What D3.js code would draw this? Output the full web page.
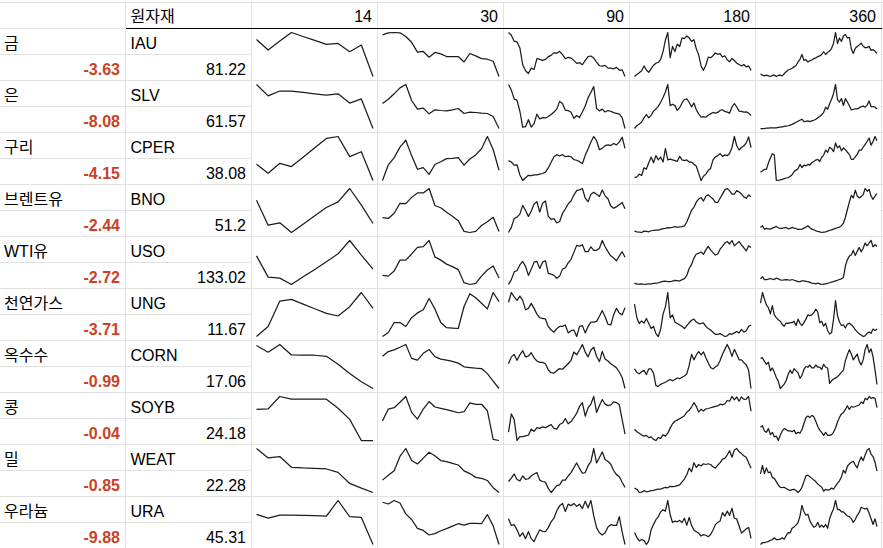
<!DOCTYPE html>
<html>
<head>
<meta charset="utf-8">
<script src="https://cdn.jsdelivr.net/npm/d3@7"></script>
<style>
  body { margin: 0; background: #fff; }
  svg { display: block; }
  .txt { font-family: "Liberation Sans", Arial, "Noto Sans CJK KR", sans-serif; font-size: 16px; fill: #000; }
  .change { font-weight: bold; fill: #cc4125; }
  .grid { stroke: #e1e1e1; stroke-width: 1; shape-rendering: crispEdges; }
  .rule { stroke: #000; stroke-width: 1; shape-rendering: crispEdges; }
  .spark { fill: none; stroke: #1c1c1c; stroke-width: 1.25; stroke-linejoin: round; }
</style>
</head>
<body>
<div id="wrapper"></div>
<script>
// table contents
const headerLabel = "원자재";
const periods = ["14", "30", "90", "180", "360"];
const names = ["금", "은", "구리", "브렌트유", "WTI유", "천연가스", "옥수수", "콩", "밀", "우라늄"];
const tickers = ["IAU", "SLV", "CPER", "BNO", "USO", "UNG", "CORN", "SOYB", "WEAT", "URA"];
const changes = [-3.63, -8.08, -4.15, -2.44, -2.72, -3.71, -0.99, -0.04, -0.85, -9.88];
const prices = [81.22, 61.57, 38.08, 51.2, 133.02, 11.67, 17.06, 24.18, 22.28, 45.31];

// sparkline values (relative levels), one list per row
const spark14 = [
  [112, 80, 107, 133, 121, 109, 97, 100, 75, 95, 0],
  [131, 98, 112, 112, 108, 104, 100, 104, 77, 89, 3],
  [49, 22, 52, 42, 70, 99, 127, 133, 72, 87, 0],
  [98, 23, 30, 1, 26, 51, 76, 93, 133, 83, 28],
  [87, 23, 20, 1, 24, 46, 69, 93, 133, 89, 47],
  [0, 30, 107, 112, 98, 84, 70, 62, 90, 133, 85],
  [129, 109, 132, 101, 100, 100, 97, 73, 46, 21, 1],
  [94, 95, 132, 124, 124, 124, 124, 97, 64, 1, 1],
  [131, 103, 107, 75, 73, 72, 70, 60, 27, 13, 0],
  [91, 80, 89, 89, 88, 87, 86, 132, 84, 82, 2],
];
const spark30 = [
  [125, 131, 132, 131, 120, 103, 74, 76, 59, 73, 69, 61, 61, 61, 45, 70, 63, 55, 53, 47, 2],
  [76, 89, 105, 123, 133, 85, 59, 62, 45, 57, 55, 54, 57, 61, 46, 50, 49, 47, 46, 37, 1],
  [2, 48, 69, 100, 120, 75, 35, 40, 20, 49, 57, 66, 67, 69, 47, 65, 77, 95, 131, 93, 32],
  [48, 46, 60, 87, 86, 103, 115, 115, 127, 81, 75, 63, 52, 40, 11, 8, 11, 27, 37, 49, 11],
  [31, 29, 43, 73, 73, 90, 108, 110, 127, 82, 73, 62, 55, 47, 11, 6, 9, 29, 46, 57, 24],
  [10, 20, 45, 45, 35, 57, 69, 77, 105, 79, 45, 32, 31, 30, 85, 117, 107, 93, 79, 120, 97],
  [96, 110, 115, 123, 131, 90, 85, 105, 116, 95, 88, 85, 81, 76, 65, 63, 61, 60, 45, 23, 1],
  [60, 95, 99, 115, 132, 85, 65, 95, 117, 101, 97, 93, 89, 84, 87, 113, 109, 109, 90, 5, 2],
  [36, 50, 63, 105, 128, 93, 83, 100, 117, 107, 93, 90, 85, 80, 63, 55, 44, 41, 35, 14, 0],
  [122, 117, 127, 120, 89, 73, 48, 42, 29, 33, 41, 47, 54, 61, 57, 62, 62, 61, 87, 55, 2],
];
const spark90 = [
  [133, 125, 107, 105, 87, 37, 19, 11, 27, 23, 55, 53, 50, 53, 61, 65, 73, 71, 77, 67, 55, 59, 57, 50, 41, 43, 37, 50, 61, 63, 57, 45, 34, 33, 35, 27, 27, 25, 29, 21, 22, 2],
  [131, 115, 90, 86, 55, 10, 11, 31, 10, 20, 47, 33, 37, 36, 40, 46, 53, 61, 83, 77, 58, 57, 52, 35, 43, 37, 53, 70, 93, 109, 125, 63, 56, 61, 53, 57, 55, 51, 49, 47, 37, 6],
  [62, 58, 49, 50, 21, 5, 13, 20, 19, 21, 21, 23, 25, 29, 41, 57, 73, 79, 75, 79, 73, 75, 73, 65, 63, 59, 53, 77, 95, 115, 131, 119, 93, 97, 105, 107, 105, 111, 107, 115, 129, 97],
  [3, 17, 41, 45, 53, 77, 63, 47, 61, 81, 87, 59, 83, 89, 47, 39, 41, 29, 33, 55, 67, 81, 89, 105, 117, 119, 123, 97, 87, 107, 113, 107, 101, 119, 103, 95, 75, 69, 73, 79, 85, 68],
  [1, 15, 37, 41, 57, 67, 53, 27, 45, 65, 67, 47, 65, 69, 33, 31, 27, 19, 25, 45, 49, 63, 73, 93, 113, 111, 115, 95, 95, 109, 99, 99, 105, 127, 109, 95, 83, 77, 69, 83, 95, 79],
  [100, 127, 115, 105, 117, 105, 79, 83, 97, 83, 67, 57, 55, 53, 33, 23, 17, 27, 33, 33, 37, 15, 21, 23, 5, 33, 35, 15, 33, 45, 45, 47, 61, 77, 60, 39, 37, 65, 83, 70, 65, 85],
  [73, 93, 100, 83, 99, 111, 93, 95, 105, 90, 81, 77, 77, 73, 55, 47, 46, 53, 59, 57, 65, 73, 83, 107, 99, 113, 129, 107, 93, 113, 121, 95, 79, 109, 87, 81, 73, 67, 61, 49, 33, 1],
  [37, 85, 70, 15, 25, 25, 27, 29, 45, 39, 49, 47, 51, 49, 53, 57, 47, 45, 57, 61, 73, 59, 65, 75, 87, 105, 115, 79, 101, 111, 131, 89, 107, 123, 111, 107, 109, 117, 115, 109, 70, 32],
  [35, 45, 57, 41, 37, 51, 41, 43, 51, 57, 61, 39, 35, 33, 15, 3, 13, 23, 25, 39, 39, 51, 61, 75, 89, 73, 59, 61, 81, 93, 131, 89, 105, 121, 99, 93, 85, 67, 55, 49, 33, 18],
  [69, 51, 53, 39, 21, 31, 15, 34, 15, 7, 24, 39, 35, 34, 45, 61, 71, 91, 105, 111, 89, 109, 105, 111, 103, 109, 97, 117, 99, 119, 77, 45, 31, 25, 31, 47, 53, 51, 51, 75, 33, -1],
];
const spark180 = [
  [2, 8, 13, 19, 33, 21, 14, 25, 35, 41, 43, 52, 75, 109, 131, 57, 90, 75, 97, 90, 115, 113, 121, 115, 105, 110, 83, 65, 33, 20, 35, 59, 57, 63, 71, 67, 69, 59, 63, 51, 45, 55, 49, 41, 37, 33, 37, 30, 33, 20],
  [2, 10, 15, 21, 33, 43, 33, 41, 53, 59, 67, 79, 93, 109, 131, 69, 73, 69, 55, 63, 77, 87, 89, 79, 65, 77, 57, 45, 35, 37, 35, 41, 45, 49, 47, 49, 55, 57, 52, 50, 47, 65, 75, 65, 53, 52, 50, 51, 47, 40],
  [15, 17, 25, 21, 43, 39, 57, 73, 57, 77, 65, 73, 59, 97, 65, 67, 65, 63, 61, 75, 65, 63, 65, 59, 59, 53, 47, 27, 7, 19, 25, 35, 41, 65, 73, 77, 83, 75, 79, 77, 83, 100, 131, 105, 93, 100, 105, 113, 130, 100],
  [7, 5, 4, 3, 7, 6, 5, 8, 9, 10, 10, 12, 14, 15, 17, 16, 18, 20, 18, 19, 20, 22, 33, 50, 67, 75, 90, 99, 103, 93, 107, 111, 105, 99, 89, 89, 101, 113, 125, 129, 123, 113, 113, 123, 119, 113, 105, 101, 111, 105],
  [7, 4, 4, 5, 3, 4, 5, 5, 6, 7, 8, 10, 12, 13, 11, 11, 13, 15, 14, 13, 17, 20, 29, 49, 61, 79, 91, 93, 97, 90, 103, 113, 103, 95, 88, 91, 105, 113, 123, 127, 120, 130, 115, 121, 127, 117, 109, 100, 115, 110],
  [95, 57, 41, 48, 42, 55, 41, 27, 33, 13, 5, 25, 67, 87, 127, 57, 65, 45, 41, 37, 33, 27, 35, 43, 50, 53, 45, 41, 41, 43, 33, 27, 23, 17, 11, 11, 13, 9, 5, 7, 13, 11, 15, 19, 15, 25, 17, 21, 33, 37],
  [61, 51, 47, 53, 57, 45, 61, 61, 49, 13, 11, 17, 20, 23, 27, 31, 27, 31, 35, 33, 37, 41, 47, 71, 103, 87, 101, 111, 101, 110, 93, 79, 65, 61, 67, 71, 85, 103, 117, 131, 117, 97, 117, 103, 87, 87, 79, 73, 57, 5],
  [40, 33, 29, 24, 21, 23, 17, 19, 12, 9, 17, 15, 25, 21, 29, 43, 55, 62, 65, 69, 73, 77, 87, 92, 101, 113, 103, 87, 95, 90, 96, 97, 99, 101, 103, 104, 109, 107, 110, 119, 117, 130, 121, 129, 117, 129, 122, 123, 130, 90],
  [20, 17, 8, 9, 13, 10, 11, 13, 14, 16, 17, 17, 20, 22, 21, 25, 24, 25, 27, 29, 37, 45, 57, 75, 65, 90, 77, 85, 81, 87, 85, 87, 85, 79, 75, 83, 90, 100, 102, 111, 123, 105, 125, 129, 120, 115, 109, 105, 90, 75],
  [41, 27, 17, 21, 18, 7, 17, 49, 63, 77, 85, 99, 105, 101, 131, 91, 69, 73, 71, 75, 69, 81, 61, 83, 61, 47, 43, 39, 31, 35, 33, 29, 35, 47, 63, 69, 73, 97, 87, 101, 89, 109, 81, 79, 59, 39, 45, 51, 55, 24],
];
const spark360 = [
  [10, 7, 5, 7, 5, 3, 6, 7, 3, 6, 7, 5, 11, 17, 22, 24, 27, 31, 35, 45, 53, 67, 50, 52, 45, 49, 51, 55, 57, 61, 63, 67, 75, 67, 73, 77, 85, 100, 131, 99, 115, 105, 121, 125, 115, 117, 83, 70, 85, 90, 95, 100, 91, 87, 87, 91, 79, 81, 77, 70],
  [3, 3, 3, 4, 4, 5, 5, 5, 5, 6, 7, 8, 9, 10, 11, 13, 15, 18, 21, 24, 27, 30, 23, 24, 25, 23, 25, 27, 30, 34, 38, 43, 50, 65, 59, 75, 88, 105, 131, 87, 80, 90, 70, 90, 80, 69, 57, 59, 60, 60, 63, 67, 68, 65, 71, 83, 67, 67, 65, 60],
  [27, 31, 35, 35, 53, 67, 79, 75, 5, 4, 6, 7, 9, 11, 12, 15, 20, 29, 33, 37, 49, 40, 47, 45, 49, 47, 54, 57, 61, 63, 57, 69, 75, 89, 83, 97, 93, 85, 109, 95, 101, 87, 95, 90, 83, 77, 63, 63, 70, 77, 89, 89, 97, 105, 113, 123, 103, 113, 127, 115],
  [20, 25, 15, 17, 16, 15, 18, 20, 23, 19, 17, 17, 19, 20, 16, 17, 20, 18, 17, 14, 14, 15, 18, 21, 25, 19, 15, 13, 10, 8, 7, 5, 6, 7, 9, 11, 13, 15, 17, 19, 21, 25, 33, 50, 73, 95, 115, 107, 130, 113, 107, 111, 117, 135, 127, 132, 113, 103, 113, 120],
  [19, 25, 17, 17, 18, 20, 18, 17, 21, 19, 16, 15, 16, 17, 16, 15, 17, 15, 13, 11, 11, 13, 13, 12, 11, 9, 7, 6, 5, 7, 5, 3, 4, 5, 6, 8, 10, 11, 13, 15, 17, 19, 23, 55, 73, 83, 87, 99, 85, 97, 107, 95, 105, 120, 112, 120, 127, 109, 115, 110],
  [100, 130, 111, 95, 87, 70, 93, 67, 59, 53, 49, 40, 35, 44, 43, 45, 45, 49, 37, 55, 43, 37, 45, 55, 67, 65, 67, 73, 83, 75, 45, 49, 35, 43, 23, 13, 17, 55, 107, 65, 47, 37, 39, 30, 41, 43, 39, 33, 25, 19, 14, 10, 6, 8, 15, 19, 15, 27, 23, 27],
  [91, 93, 83, 75, 81, 57, 65, 53, 39, 29, 9, 15, 21, 31, 47, 59, 50, 63, 57, 52, 37, 45, 61, 69, 67, 73, 65, 65, 73, 67, 67, 61, 75, 67, 65, 23, 30, 35, 38, 41, 47, 53, 59, 85, 101, 115, 103, 87, 95, 103, 83, 73, 87, 115, 129, 107, 117, 95, 60, 20],
  [47, 51, 37, 33, 43, 27, 33, 21, 23, 11, 25, 37, 43, 41, 37, 37, 35, 39, 29, 33, 31, 40, 57, 73, 77, 73, 79, 75, 63, 49, 39, 33, 25, 33, 25, 25, 27, 33, 45, 61, 73, 83, 87, 95, 105, 95, 103, 101, 103, 105, 107, 115, 111, 125, 121, 130, 125, 127, 125, 100],
  [68, 89, 69, 83, 71, 73, 59, 57, 49, 41, 35, 34, 35, 32, 29, 27, 29, 30, 27, 22, 27, 35, 49, 63, 65, 61, 57, 53, 49, 43, 39, 35, 25, 30, 28, 29, 33, 30, 38, 45, 51, 61, 77, 70, 87, 93, 97, 99, 90, 83, 99, 110, 101, 115, 127, 131, 117, 111, 97, 75],
  [4, 9, 9, 11, 13, 16, 18, 23, 18, 18, 19, 23, 19, 29, 38, 37, 50, 54, 59, 66, 85, 115, 97, 87, 90, 71, 61, 53, 56, 67, 53, 59, 53, 61, 50, 77, 93, 105, 129, 103, 103, 97, 97, 90, 85, 83, 77, 67, 75, 87, 95, 110, 107, 105, 107, 93, 77, 61, 77, 55],
];

function drawTable() {
  const sparkByPeriod = { "14": spark14, "30": spark30, "90": spark90, "180": spark180, "360": spark360 };

  // define dimensions
  let dimensions = {
    width: 883,
    height: 548,
    headerTop: 2.5,
    headerBottom: 28.5,
    rowHeight: 52,
    textPad: 5,
    spark: { left: 5, right: 4.5, top: 4, bottom: 4 },
  };

  const columns = ["name", "ticker", ...periods];
  const xCol = d3.scaleBand().domain(columns).range([-1.5, 880.5]);
  const colW = xCol.bandwidth();
  const yRow = d3
    .scaleBand()
    .domain(d3.range(names.length))
    .range([
      dimensions.headerBottom,
      dimensions.headerBottom + names.length * dimensions.rowHeight,
    ]);
  const half = dimensions.rowHeight / 2;

  const svg = d3
    .select("#wrapper")
    .append("svg")
    .attr("width", dimensions.width)
    .attr("height", dimensions.height);

  // grid lines
  const grid = svg.append("g");
  const gridLine = (x1, x2, y1, y2, cls = "grid") =>
    grid.append("line").attr("class", cls)
      .attr("x1", x1).attr("x2", x2).attr("y1", y1).attr("y2", y2);

  gridLine(0, dimensions.width, dimensions.headerTop, dimensions.headerTop);
  columns.forEach((c) => {
    const x = Math.round(xCol(c) + colW) + 0.5;
    gridLine(x, x, dimensions.headerTop, dimensions.height);
  });
  const rightEdge = Math.round(xCol("360") + colW) + 0.5;
  const leftSparks = Math.round(xCol("ticker") + colW) + 0.5;
  names.forEach((d, i) => {
    const top = yRow(i);
    // inner line only in text columns (spark cells are merged)
    gridLine(0, leftSparks, top + half, top + half);
    gridLine(rightEdge, dimensions.width, top + half, top + half);
    gridLine(0, dimensions.width, top + dimensions.rowHeight, top + dimensions.rowHeight);
  });
  const ruleStart = Math.round(xCol("ticker")) + 0.5;
  gridLine(0, ruleStart, dimensions.headerBottom, dimensions.headerBottom);
  gridLine(rightEdge, dimensions.width, dimensions.headerBottom, dimensions.headerBottom);
  gridLine(ruleStart, rightEdge, dimensions.headerBottom, dimensions.headerBottom, "rule");

  // header texts
  const header = svg.append("g");
  header.append("text")
    .attr("class", "txt")
    .attr("x", xCol("ticker") + dimensions.textPad + 1)
    .attr("y", 22)
    .text(headerLabel);
  header.selectAll(".period")
    .data(periods)
    .enter()
    .append("text")
    .attr("class", "txt period")
    .attr("text-anchor", "end")
    .attr("x", (d) => xCol(d) + colW - dimensions.textPad + 0.5)
    .attr("y", 22)
    .text((d) => d);

  // row texts
  const rows = svg
    .selectAll(".row")
    .data(names)
    .enter()
    .append("g")
    .attr("class", "row")
    .attr("transform", (d, i) => `translate(0, ${yRow(i)})`);

  rows.append("text")
    .attr("class", "txt")
    .attr("x", 4)
    .attr("y", 20)
    .text((d) => d);
  rows.append("text")
    .attr("class", "txt change")
    .attr("text-anchor", "end")
    .attr("x", xCol("name") + colW - dimensions.textPad + 0.5)
    .attr("y", half + 20)
    .text((d, i) => changes[i]);
  rows.append("text")
    .attr("class", "txt")
    .attr("x", xCol("ticker") + dimensions.textPad + 1)
    .attr("y", 20)
    .text((d, i) => tickers[i]);
  rows.append("text")
    .attr("class", "txt")
    .attr("text-anchor", "end")
    .attr("x", xCol("ticker") + colW - dimensions.textPad + 0.5)
    .attr("y", half + 20)
    .text((d, i) => prices[i]);

  // sparklines
  const pad = dimensions.spark;
  periods.forEach((p) => {
    const x0 = Math.round(xCol(p)) + 0.5;
    sparkByPeriod[p].forEach((values, i) => {
      const top = yRow(i);
      const xScale = d3.scaleLinear()
        .domain([0, values.length - 1])
        .range([x0 + pad.left, x0 + colW - pad.right]);
      const yScale = d3.scaleLinear()
        .domain(d3.extent(values))
        .range([top + dimensions.rowHeight - pad.bottom, top + pad.top]);
      const line = d3.line()
        .x((d, j) => xScale(j))
        .y((d) => yScale(d));
      svg.append("path")
        .datum(values)
        .attr("class", "spark")
        .attr("d", line);
    });
  });
}
drawTable();
</script>
</body>
</html>
